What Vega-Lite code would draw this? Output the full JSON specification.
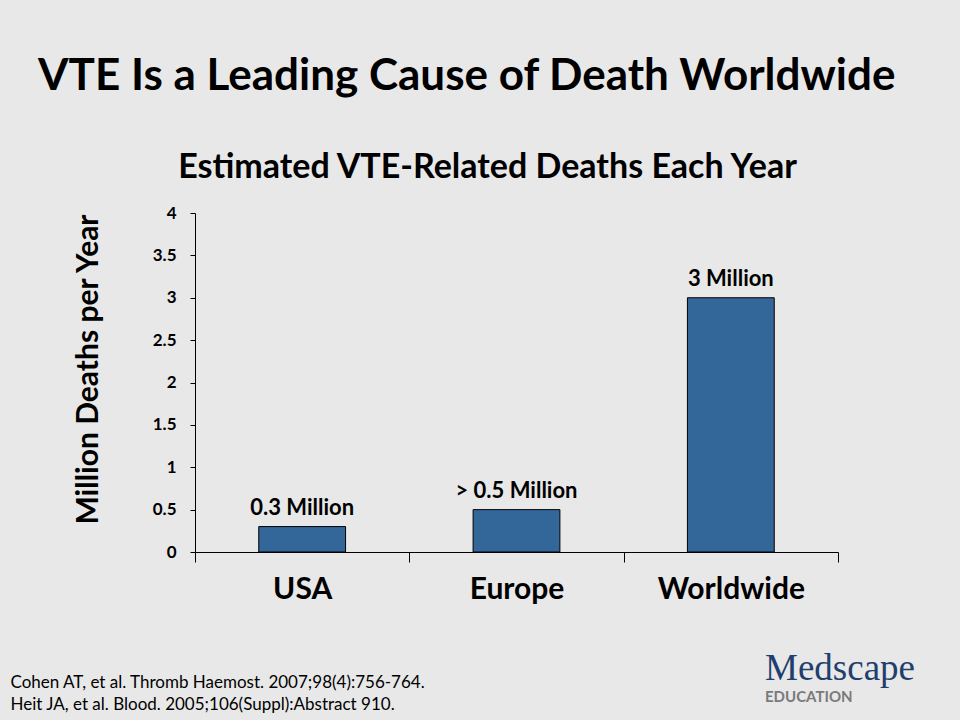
{
  "$schema": "https://vega.github.io/schema/vega-lite/v6.json",
  "background": "#e8e8e8",
  "padding": {"left": 10, "top": 55, "right": 47, "bottom": 12},
  "title": {
    "text": "VTE Is a Leading Cause of Death Worldwide",
    "anchor": "start",
    "font": "Lato",
    "fontSize": 44,
    "fontWeight": "bold",
    "color": "#000000",
    "dx": 28,
    "offset": 52
  },
  "vconcat": [
    {
      "title": {
        "text": "Medscape",
        "subtitle": "EDUCATION",
        "orient": "bottom",
        "anchor": "start",
        "font": "Liberation Serif",
        "fontSize": 37,
        "fontWeight": "normal",
        "color": "#1f3f6e",
        "subtitleFont": "Lato",
        "subtitleFontSize": 15,
        "subtitleFontWeight": "bold",
        "subtitleColor": "#7a7a7a",
        "subtitlePadding": 2,
        "dx": 755,
        "offset": -61
      },
      "vconcat": [
        {
          "width": 643,
          "height": 339,
          "title": {
            "text": "Estimated VTE-Related Deaths Each Year",
            "anchor": "middle",
            "frame": "group",
            "font": "Lato",
            "fontSize": 34,
            "fontWeight": "bold",
            "color": "#000000",
            "dx": -29,
            "offset": 19
          },
          "data": {
            "values": [
              {"region": "USA", "deaths": 0.3, "label": "0.3 Million"},
              {"region": "Europe", "deaths": 0.5, "label": "> 0.5 Million"},
              {"region": "Worldwide", "deaths": 3, "label": "3 Million"}
            ]
          },
          "encoding": {
            "x": {
              "field": "region",
              "type": "nominal",
              "sort": ["USA", "Europe", "Worldwide"],
              "scale": {"paddingInner": 0, "paddingOuter": 0},
              "axis": {
                "title": ["Cohen AT, et al. Thromb Haemost. 2007;98(4):756-764.", "Heit JA, et al. Blood. 2005;106(Suppl):Abstract 910."],
                "titleFont": "Lato",
                "titleFontSize": 17,
                "titleFontWeight": "normal",
                "titleColor": "#000000",
                "titleAnchor": "start",
                "titleAlign": "left",
                "titleBaseline": "alphabetic",
                "titleX": -185,
                "titleY": 135,
                "titleLineHeight": 22,
                "labelAngle": 0,
                "labelFont": "Lato",
                "labelFontSize": 30,
                "labelFontWeight": "bold",
                "labelColor": "#000000",
                "labelPadding": 12,
                "tickBand": "extent",
                "ticks": true,
                "tickSize": 10,
                "tickColor": "#000000",
                "domainColor": "#000000",
                "grid": false
              }
            },
            "y": {
              "field": "deaths",
              "type": "quantitative",
              "scale": {"domain": [0, 4], "nice": false},
              "axis": {
                "title": "Million Deaths per Year",
                "titleFont": "Lato",
                "titleFontSize": 30,
                "titleFontWeight": "bold",
                "titleColor": "#000000",
                "titlePadding": 49,
                "titleY": 156,
                "values": [0, 0.5, 1, 1.5, 2, 2.5, 3, 3.5, 4],
                "format": "~g",
                "labelFont": "Lato",
                "labelFontSize": 17,
                "labelFontWeight": "bold",
                "labelColor": "#000000",
                "labelPadding": 14,
                "tickSize": 5,
                "tickColor": "#000000",
                "domainColor": "#000000",
                "grid": false
              }
            }
          },
          "layer": [
            {
              "mark": {"type": "bar", "width": {"band": 0.405}, "color": "#336699", "stroke": "#000000", "strokeWidth": 1}
            },
            {
              "mark": {"type": "text", "baseline": "alphabetic", "dy": -12, "font": "Lato", "fontSize": 22, "fontWeight": "bold", "color": "#000000"},
              "encoding": {"text": {"field": "label"}}
            }
          ]
        }
      ]
    }
  ],
  "config": {
    "view": {"stroke": null},
    "concat": {"spacing": 0}
  }
}
